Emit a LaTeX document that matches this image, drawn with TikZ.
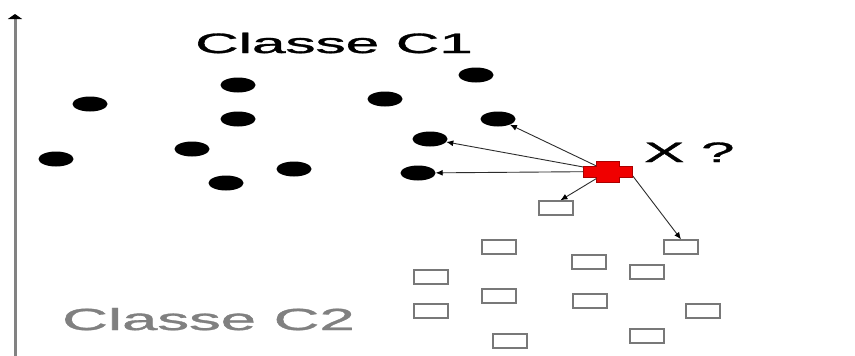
\documentclass[tikz,border=0pt]{standalone}
\usepackage{fontspec}
\setmainfont{Liberation Sans}
\newfontfamily\heavyfont{Liberation Sans}[FakeBold=1.0]
\usetikzlibrary{shapes.geometric,arrows.meta}
\definecolor{crossred}{RGB}{240,0,0}
\definecolor{crossedge}{RGB}{170,0,0}
\definecolor{sqgray}{RGB}{120,120,120}
\definecolor{lblgray}{RGB}{128,128,128}
\definecolor{axgray}{RGB}{130,130,130}
\tikzset{
  dot/.style={ellipse, fill=black, inner sep=0pt, minimum width=35pt, minimum height=15pt},
  sq/.style={rectangle, draw=sqgray, line width=1.4pt, fill=white, inner sep=0pt, minimum width=34pt, minimum height=14pt},
  lbl/.style={anchor=base west, inner sep=0pt, font=\heavyfont\fontsize{28}{30}\selectfont},
  link/.style={draw={rgb,255:red,45;green,45;blue,45}, line width=0.9pt, -{Latex[length=7pt,width=6pt,color=black]}},
}
\begin{document}
\begin{tikzpicture}[x=1pt,y=-1pt]
\useasboundingbox[fill=white] (0,0) rectangle (855,356);
% axis
\coordinate (axb) at (15,356);
\coordinate (axt) at (15,14);
\draw[draw=axgray, line width=3pt, -{Triangle[length=5pt,width=14pt,color=black]}] (axb) -- (axt);
% labels
\node[lbl] (c1) at (195,53) {\scalebox{2.15}[1]{Classe C1}};
\node[lbl, text=lblgray, font=\heavyfont\fontsize{30.5}{32}\selectfont] (c2) at (62,330) {\scalebox{2.08}[1]{Classe C2}};
\node[lbl] (xq) at (644,162) {\scalebox{2.15}[1]{X ?}};
% class C1 dots
\node[dot] (d1) at (90,104) {};
\node[dot] (d2) at (56,159) {};
\node[dot] (d3) at (238,85) {};
\node[dot] (d4) at (238,119) {};
\node[dot] (d5) at (192,149) {};
\node[dot] (d6) at (226,183) {};
\node[dot] (d7) at (294,169) {};
\node[dot] (d8) at (476,75) {};
\node[dot] (d9) at (385,99) {};
\node[dot] (d10) at (498,119) {};
\node[dot] (d11) at (430,139) {};
\node[dot] (d12) at (418,173) {};
% class C2 squares
\node[sq] (s1) at (556,208) {};
\node[sq] (s2) at (681,247) {};
\node[sq] (s3) at (499,247) {};
\node[sq] (s4) at (589,262) {};
\node[sq] (s5) at (647,272) {};
\node[sq] (s6) at (431,277) {};
\node[sq] (s7) at (499,296) {};
\node[sq] (s8) at (590,301) {};
\node[sq] (s9) at (431,311) {};
\node[sq] (s10) at (703,311) {};
\node[sq] (s11) at (510,341) {};
\node[sq] (s12) at (647,336) {};
% query point
\node[rectangle, inner sep=0pt, minimum width=49pt, minimum height=21pt] (q) at (608,171.5) {};
\draw[link] (q.center) -- (d10);
\draw[link] (q.center) -- (d11);
\draw[link] (q.center) -- (d12);
\draw[link] (q.center) -- (s1.60);
\draw[link] (q.-10) -- (s2.north);
\draw[fill=crossred, draw=crossedge, line width=0.8pt, shift={(q.center)}]
  (-11.5,-10.5) -- (11.5,-10.5) -- (11.5,-5.5) -- (24.5,-5.5) -- (24.5,5.5) -- (11.5,5.5)
  -- (11.5,10.5) -- (-11.5,10.5) -- (-11.5,5.5) -- (-24.5,5.5) -- (-24.5,-5.5) -- (-11.5,-5.5) -- cycle;
\end{tikzpicture}
\end{document}
